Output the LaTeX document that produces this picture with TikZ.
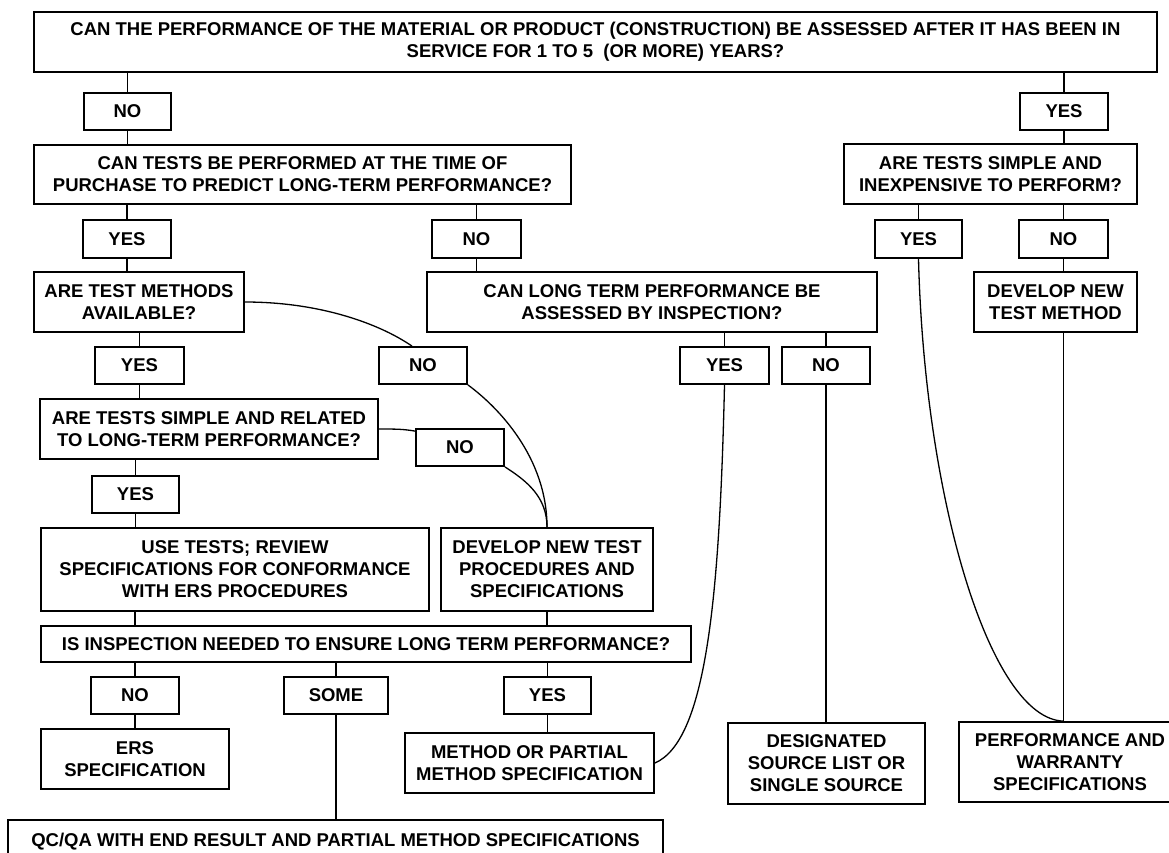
\documentclass[tikz,border=0pt]{standalone}
\usepackage{fontspec}
\setmainfont{Liberation Sans}
\usetikzlibrary{calc}
\tikzset{
  box/.style={draw, line width=1.8pt, inner sep=0pt, align=center,
    font=\bfseries\fontsize{18.5}{22}\selectfont},
  link/.style={line width=1.3pt},
}
\newcommand\mybox[6]{\node[box, minimum width={(#4-#2)*1pt}, minimum height={(#5-#3)*1pt}] (#1) at ({(#2+#4)/2},{(#3+#5)/2}) {#6};}
\begin{document}
\begin{tikzpicture}[x=1pt,y=-1pt]
\useasboundingbox[fill=white] (0,0) rectangle (1169,852);
% boxes
\mybox{top}{34}{12}{1157}{72}{CAN THE PERFORMANCE OF THE MATERIAL OR PRODUCT (CONSTRUCTION) BE ASSESSED AFTER IT HAS BEEN IN\\SERVICE FOR 1 TO 5~ (OR MORE) YEARS?}
\mybox{noA}{84}{93}{171}{130}{NO}
\mybox{yesA}{1020}{93}{1108}{130}{YES}
\mybox{qB}{34}{145}{571}{204}{CAN TESTS BE PERFORMED AT THE TIME OF\\PURCHASE TO PREDICT LONG-TERM PERFORMANCE?}
\mybox{qC}{844}{144}{1137}{204}{ARE TESTS SIMPLE AND\\INEXPENSIVE TO PERFORM?}
\mybox{yesB}{83}{220}{171}{258}{YES}
\mybox{noB}{432}{220}{521}{258}{NO}
\mybox{yesC}{875}{220}{962}{258}{YES}
\mybox{noC}{1019}{220}{1108}{258}{NO}
\mybox{qD}{34}{272}{244}{332}{ARE TEST METHODS\\AVAILABLE?}
\mybox{qE}{427}{272}{877}{332}{CAN LONG TERM PERFORMANCE BE\\ASSESSED BY INSPECTION?}
\mybox{dntm}{974}{272}{1137}{332}{DEVELOP NEW\\TEST METHOD}
\mybox{yesD}{95}{347}{184}{384}{YES}
\mybox{noD}{379}{347}{467}{384}{NO}
\mybox{yesE}{680}{347}{769}{384}{YES}
\mybox{noE}{782}{347}{870}{384}{NO}
\mybox{qF}{40}{399}{378}{459}{ARE TESTS SIMPLE AND RELATED\\TO LONG-TERM PERFORMANCE?}
\mybox{noF}{416}{429}{504}{466}{NO}
\mybox{yesF}{92}{476}{179}{513}{YES}
\mybox{use}{41}{528}{429}{611}{USE TESTS; REVIEW\\SPECIFICATIONS FOR CONFORMANCE\\WITH ERS PROCEDURES}
\mybox{dntp}{441}{528}{653}{611}{DEVELOP NEW TEST\\PROCEDURES AND\\SPECIFICATIONS}
\mybox{qG}{41}{626}{691}{662}{IS INSPECTION NEEDED TO ENSURE LONG TERM PERFORMANCE?}
\mybox{noG}{91}{677}{179}{714}{NO}
\mybox{some}{284}{677}{388}{714}{SOME}
\mybox{yesG}{504}{677}{591}{714}{YES}
\mybox{ers}{41}{729}{229}{789}{ERS\\SPECIFICATION}
\mybox{mps}{405}{733}{654}{793}{METHOD OR PARTIAL\\METHOD SPECIFICATION}
\mybox{dsl}{728}{723}{925}{804}{DESIGNATED\\SOURCE LIST OR\\SINGLE SOURCE}
\mybox{perf}{959}{722}{1181}{802}{PERFORMANCE AND\\WARRANTY\\SPECIFICATIONS}
\mybox{qc}{8}{820}{663}{863}{QC/QA WITH END RESULT AND PARTIAL METHOD SPECIFICATIONS}
% straight connectors
\begin{scope}[link]
\draw (noA.north |- top.south) -- (noA.north);
\draw (noA.south) -- (noA.south |- qB.north);
\draw (yesA.north |- top.south) -- (yesA.north);
\draw (yesA.south) -- (yesA.south |- qC.north);
\draw (yesB.north |- qB.south) -- (yesB.north);
\draw (yesB.south) -- (yesB.south |- qD.north);
\draw (noB.north |- qB.south) -- (noB.north);
\draw (noB.south) -- (noB.south |- qE.north);
\draw (yesC.north |- qC.south) -- (yesC.north);
\draw (noC.north |- qC.south) -- (noC.north);
\draw (noC.south) -- (noC.south |- dntm.north);
\draw (noC.south |- dntm.south) -- (noC.south |- perf.north);
\draw (yesD.north |- qD.south) -- (yesD.north);
\draw (yesD.south) -- (yesD.south |- qF.north);
\draw (yesE.north |- qE.south) -- (yesE.north);
\draw (noE.north |- qE.south) -- (noE.north);
\draw (noE.south) -- (noE.south |- dsl.north);
\draw (yesF.north |- qF.south) -- (yesF.north);
\draw (yesF.south) -- (yesF.south |- use.north);
\draw (noG.north |- use.south) -- (noG.north |- qG.north);
\draw (dntp.south) -- (dntp.south |- qG.north);
\draw (noG.north |- qG.south) -- (noG.north);
\draw (noG.south) -- (noG.south |- ers.north);
\draw (some.north |- qG.south) -- (some.north);
\draw (some.south) -- (some.south |- qc.north);
\draw (yesG.north |- qG.south) -- (yesG.north);
\draw (yesG.south) -- (yesG.south |- mps.north);
% curved connectors
\draw (qD.east) .. controls ++(76,0) and ++(-32,-22) .. ([xshift=-11pt]noD.north);
\draw (noD.south east) .. controls ++(30,22) and ++(0,-70) .. (dntp.north);
\draw (qF.east) .. controls ++(18,0) and ++(-12,-2) .. ([yshift=-3pt]noF.north west);
\draw (noF.south east) .. controls ++(22,14) and ++(0,-30) .. (dntp.north);
\draw (yesE.south) .. controls ++(-5,216) and ++(51,-22) .. (mps.east);
\draw (yesC.south) .. controls ++(6,242) and ++(-73,-2) .. (noC.south |- perf.north);
\end{scope}
\end{tikzpicture}
\end{document}
